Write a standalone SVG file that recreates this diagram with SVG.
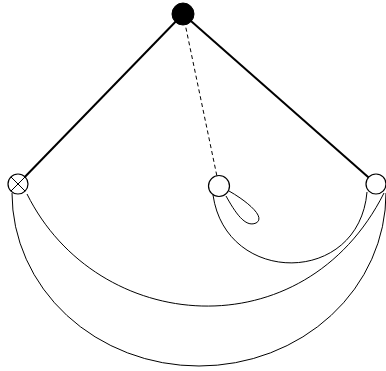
<svg xmlns="http://www.w3.org/2000/svg" width="386" height="371" viewBox="0 0 386 371">
<style>
.n{fill:#fff;stroke:#000;stroke-width:1.2}
.e{fill:none;stroke:#000;stroke-width:1}
.t{fill:none;stroke:#000;stroke-width:2}
.d{fill:none;stroke:#000;stroke-width:1;stroke-dasharray:4,3}
</style>
<rect width="386" height="371" fill="#fff"/>
<g id="connectors">
<line class="t" x1="183" y1="14" x2="18" y2="184"/>
<line class="t" x1="183" y1="14" x2="376" y2="184"/>
<line class="d" x1="183" y1="14" x2="219" y2="186"/>
<path class="e" d="M213,195 C226,286 359,286 367,192"/>
<path class="e" d="M27,194 C97,335 304,352 384,193"/>
<path class="e" d="M12,193 A187,173 0 0 0 386,193"/>
<path class="e" d="M229,191 C245,200 267,217 256,223 C245,228 235,212 226,196"/>
</g>
<g id="top"><circle cx="183" cy="14" r="11" fill="#000" stroke="#000"/></g>
<g id="left"><circle class="n" cx="18" cy="184" r="10"/><path class="e" d="M11,177 L25,191 M25,177 L11,191"/></g>
<g id="middle"><circle class="n" cx="219" cy="186" r="10.5"/></g>
<g id="right"><circle class="n" cx="376" cy="184" r="10"/></g>
</svg>
